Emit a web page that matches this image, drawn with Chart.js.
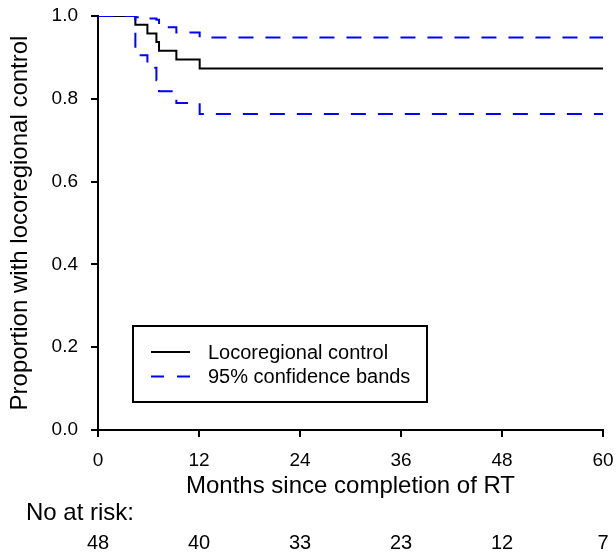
<!DOCTYPE html>
<html>
<head>
<meta charset="utf-8">
<script src="https://cdn.jsdelivr.net/npm/chart.js@4.4.1/dist/chart.umd.min.js"></script>
<style>
  html, body { margin: 0; padding: 0; background: #fff; }
</style>
</head>
<body>
<canvas id="km" width="616" height="557"></canvas>
<script>
// Kaplan-Meier locoregional control
var months = [0, 4.44, 5.87, 6.94, 7.25, 9.31, 12.08, 60];
var control = [1.0, 0.979, 0.958, 0.937, 0.916, 0.895, 0.873, 0.873];
var upperBand = [1.0, 0.997, 0.994, 0.991, 0.973, 0.960, 0.948, 0.948];
var lowerBand = [1.0, 0.905, 0.875, 0.845, 0.818, 0.790, 0.763, 0.763];

var riskTimes = [0, 12, 24, 36, 48, 60];
var atRisk = [48, 40, 33, 23, 12, 7];

var FONT = '"Liberation Sans", Arial, sans-serif';

function pts(xs, ys) {
    return xs.map(function (x, i) { return { x: x, y: ys[i] }; });
}

// legend box drawn inside the plot, bottom-left
var boxLegend = {
    id: 'boxLegend',
    afterDatasetsDraw: function (chart) {
        var c = chart.ctx, a = chart.chartArea;
        var left = a.left + 35, top = a.top + 310, w = 294, h = 76;
        c.save();
        c.fillStyle = '#fff';
        c.fillRect(left, top, w, h);
        c.strokeStyle = '#000';
        c.lineWidth = 2;
        c.strokeRect(left, top, w, h);
        c.font = '20px ' + FONT;
        c.textBaseline = 'middle';
        c.fillStyle = '#000';
        var items = [
            { text: 'Locoregional control', color: '#000', dash: [] },
            { text: '95% confidence bands', color: '#0000ff', dash: [13, 13] }
        ];
        items.forEach(function (it, i) {
            var y = top + 26 + i * 24.5;
            c.beginPath();
            c.setLineDash(it.dash);
            c.strokeStyle = it.color;
            c.lineWidth = 2;
            c.moveTo(left + 18, y);
            c.lineTo(left + 57, y);
            c.stroke();
            c.setLineDash([]);
            c.fillText(it.text, left + 75, y + 1);
        });
        c.restore();
    }
};

// number at risk row under the x axis
var riskRow = {
    id: 'riskRow',
    afterDraw: function (chart) {
        var c = chart.ctx, x = chart.scales.x;
        c.save();
        c.fillStyle = '#000';
        c.textBaseline = 'middle';
        c.textAlign = 'left';
        c.font = '24px ' + FONT;
        c.fillText('No at risk:', 26, 513);
        c.textAlign = 'center';
        c.font = '20px ' + FONT;
        riskTimes.forEach(function (t, i) {
            c.fillText(String(atRisk[i]), x.getPixelForValue(t), 543);
        });
        c.restore();
    }
};

var ctx = document.getElementById('km').getContext('2d');
var chart = new Chart(ctx, {
    type: 'line',
    data: {
        datasets: [{
            label: 'Locoregional control',
            data: pts(months, control),
            borderColor: '#000',
            borderWidth: 2,
            stepped: 'before',
            pointRadius: 0,
            order: 3
        }, {
            label: '95% confidence bands',
            data: pts(months, upperBand),
            borderColor: '#0000ff',
            borderWidth: 2,
            borderDash: [15, 12],
            stepped: 'before',
            pointRadius: 0,
            order: 1
        }, {
            label: 'lower',
            data: pts(months, lowerBand),
            borderColor: '#0000ff',
            borderWidth: 2,
            borderDash: [15, 12],
            stepped: 'before',
            pointRadius: 0,
            order: 2
        }]
    },
    options: {
        responsive: false,
        animation: false,
        layout: { padding: { left: 0, right: 13, top: 16, bottom: 0 } },
        plugins: {
            legend: { display: false },
            tooltip: { enabled: false }
        },
        scales: {
            x: {
                type: 'linear',
                min: 0,
                max: 60,
                afterFit: function (s) { s.height = 127; s.paddingLeft = 0; s.paddingRight = 0; },
                ticks: { stepSize: 12, color: '#000', font: { size: 19, family: FONT }, padding: 12 },
                grid: { drawOnChartArea: false, drawTicks: true, tickLength: 7, color: '#000', lineWidth: 2 },
                border: { color: '#000', width: 2 },
                title: { display: true, text: 'Months since completion of RT', color: '#000',
                         font: { size: 24, family: FONT }, padding: { top: 0, bottom: 56 } }
            },
            y: {
                min: 0,
                max: 1,
                afterFit: function (s) { s.width = 98; s.paddingTop = 0; s.paddingBottom = 0; },
                ticks: { stepSize: 0.2, color: '#000', font: { size: 19, family: FONT }, padding: 13,
                         callback: function (v) { return v.toFixed(1); } },
                grid: { drawOnChartArea: false, drawTicks: true, tickLength: 7, color: '#000', lineWidth: 2 },
                border: { color: '#000', width: 2 },
                title: { display: true, text: 'Proportion with locoregional control', color: '#000',
                         font: { size: 24, family: FONT }, padding: { top: 6, bottom: 0 } }
            }
        }
    },
    plugins: [boxLegend, riskRow]
});
</script>
</body>
</html>
